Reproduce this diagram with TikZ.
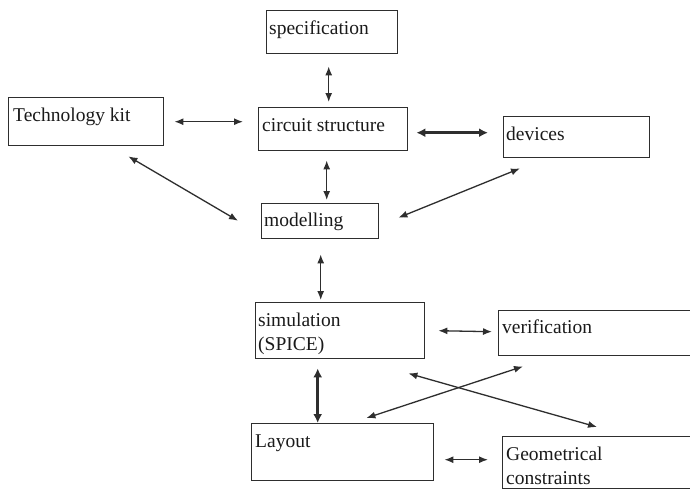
\documentclass[tikz,border=0pt]{standalone}
\usepackage{fontspec}
\setmainfont{Liberation Serif}
\usetikzlibrary{arrows.meta,calc}
\definecolor{ink}{HTML}{2E2E2E}
\definecolor{txt}{HTML}{1A1A1A}
\tikzset{
  box/.style={draw=ink, line width=1.4pt, rectangle, inner sep=0pt, anchor=north west},
  lbl/.style={anchor=north west, inner sep=0pt, align=left, text=txt,
    font=\fontsize{19.5}{24}\selectfont},
  arr/.style={draw=ink, line width=1.3pt, {Latex[length=9pt,width=7pt]}-{Latex[length=9pt,width=7pt]}},
  thick arr/.style={draw=ink, line width=2.8pt, {Latex[length=9pt,width=9pt]}-{Latex[length=9pt,width=9pt]}},
}
\newcommand{\hs}{\rule{0pt}{15pt}}
\begin{document}
\begin{tikzpicture}[x=1pt,y=-1pt]
\useasboundingbox (0,0) rectangle (690,490);
\clip (0,0) rectangle (690,490);
\fill[white] (0,0) rectangle (690,490);

% boxes
\node[box, minimum width=131pt, minimum height=43pt] (spec) at (266,10) {};
\node[box, minimum width=155pt, minimum height=48pt] (tech) at (8,97) {};
\node[box, minimum width=149pt, minimum height=43pt] (circ) at (258,107) {};
\node[box, minimum width=146pt, minimum height=41pt] (dev) at (503,116) {};
\node[box, minimum width=117pt, minimum height=35pt] (model) at (261,203) {};
\node[box, minimum width=169pt, minimum height=56pt] (sim) at (255,302) {};
\node[box, minimum width=200pt, minimum height=45pt] (verif) at (498,310) {};
\node[box, minimum width=182pt, minimum height=57pt] (layout) at (251,423) {};
\node[box, minimum width=200pt, minimum height=52pt] (geo) at (502,436) {};

% texts
\node[lbl] (specT) at ($(spec.north west)+(3,9)$) {\hs specification};
\node[lbl] (techT) at ($(tech.north west)+(5,9)$) {\hs Technology kit};
\node[lbl] (circT) at ($(circ.north west)+(4,9)$) {\hs circuit structure};
\node[lbl] (devT) at ($(dev.north west)+(3,9)$) {\hs devices};
\node[lbl] (modelT) at ($(model.north west)+(3,8)$) {\hs modelling};
\node[lbl] (simT) at ($(sim.north west)+(3,9)$) {\hs simulation\\(SPICE)};
\node[lbl] (verifT) at ($(verif.north west)+(4,8)$) {\hs verification};
\node[lbl] (layoutT) at ($(layout.north west)+(4,9)$) {\hs Layout};
\node[lbl] (geoT) at ($(geo.north west)+(4,9)$) {\hs Geometrical\\constraints};

% connectors
\draw[arr] ($(spec.south)+(-3.5,12)$) -- ($(circ.north)+(-4.5,-5)$);
\draw[arr] ($(tech.east)+(10,0)$) -- ($(circ.west)+(-15,-7.5)$);
\draw[thick arr] ($(circ.east)+(8,3.5)$) -- ($(dev.west)+(-15,-4.5)$);
\draw[arr] ($(circ.south)+(-6.5,9)$) -- ($(model.north)+(6.5,-3)$);
\draw[arr] ($(tech.south east)+(-36,10)$) -- ($(model.west)+(-23,-0.5)$);
\draw[arr] ($(dev.south west)+(17,10)$) -- ($(model.east)+(19,-3.5)$);
\draw[arr] ($(model.south)+(0.5,15)$) -- ($(sim.north)+(-19.5,-2)$);
\draw[arr] ($(sim.east)+(13,0)$) -- ($(verif.west)+(-6,-1.5)$);
\draw[thick arr] ($(sim.south)+(-22.5,9)$) -- ($(layout.north)+(-25,0)$);
\draw[arr] ($(sim.south east)+(-17,14)$) -- ($(geo.north west)+(95,-9)$);
\draw[arr] ($(layout.north east)+(-68,-5)$) -- ($(verif.south west)+(25,10)$);
\draw[arr] ($(layout.east)+(10,7.5)$) -- ($(geo.west)+(-14,-3)$);
\end{tikzpicture}
\end{document}
